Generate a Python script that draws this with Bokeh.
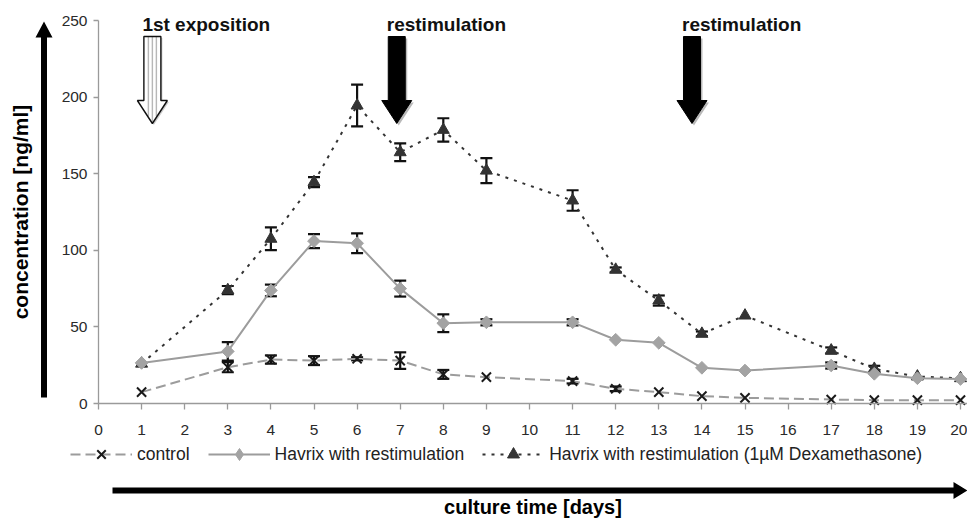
import math
from bokeh.plotting import figure
from bokeh.models import (ColumnDataSource, Whisker, TeeHead, FixedTicker, Legend, LegendItem,
                          PolyAnnotation, Label, Range1d, LinearAxis)
from bokeh.embed import file_html
from bokeh.resources import INLINE

# ---------------- data ----------------
days = [1, 3, 4, 5, 6, 7, 8, 9, 11, 12, 13, 14, 15, 17, 18, 19, 20]
control = [7.4, 23.7, 28.7, 28.0, 29.2, 28.0, 19.0, 17.2, 14.6, 9.6, 7.4, 4.8, 3.7, 2.6, 2.2, 2.2, 2.2]
control_err = [0, 3.3, 2.7, 2.9, 1.0, 5.4, 2.9, 0, 1.5, 1.5, 0, 0, 0, 0, 0, 0, 0]
havrix = [26.5, 34.0, 73.8, 106.0, 104.6, 75.0, 52.4, 53.0, 53.0, 41.6, 39.6, 23.3, 21.5, 24.8, 19.4, 16.5, 16.0]
havrix_err = [0, 6.0, 3.8, 4.6, 6.5, 5.2, 5.8, 2.0, 2.0, 0, 0, 0, 0, 2.0, 0, 0, 0]
dexa = [26.0, 74.0, 107.5, 144.5, 194.5, 164.0, 178.6, 152.0, 132.5, 87.3, 67.2, 45.5, 57.4, 34.6, 22.6, 17.6, 16.5]
dexa_err = [0, 2.7, 7.4, 3.3, 13.6, 5.8, 7.6, 8.2, 6.7, 1.5, 3.3, 1.5, 0, 2.0, 2.0, 0, 0]

series_names = ["control", "Havrix with restimulation",
                "Havrix with restimulation (1\u00b5M Dexamethasone)"]
x_ticks = list(range(0, 21))
y_ticks = [0, 50, 100, 150, 200, 250]

event_labels = ["1st exposition", "restimulation", "restimulation"]
event_days = [1.25, 6.92, 13.77]

FONT = "Liberation Sans"
W, H = 967, 519

# pixel helpers (plot area: day 0 at x=98, day 20 at x=960; 0 at y=403, 250 at y=20)
PX_DAY = (960 - 98) / 20.0
PX_UNIT = 383 / 250.0


def dx(X):
    return (X - 98) / PX_DAY


def dy(Y):
    return (403 - Y) / PX_UNIT


# ---------------- figure ----------------
p = figure(width=W, height=H, output_backend="svg", toolbar_location=None,
           x_range=Range1d(dx(0), dx(W)), y_range=Range1d(dy(H), dy(0)),
           x_axis_location=None, y_axis_location=None,
           min_border_left=0, min_border_right=0, min_border_top=0, min_border_bottom=0)
p.outline_line_color = None
p.grid.visible = False
p.background_fill_color = "white"
p.border_fill_color = "white"

xaxis = LinearAxis(fixed_location=0, bounds=(0, dx(984)), ticker=FixedTicker(ticks=x_ticks))
yaxis = LinearAxis(fixed_location=0, bounds=(0, 250), ticker=FixedTicker(ticks=y_ticks))
for ax in (xaxis, yaxis):
    ax.axis_line_color = "#9a9a9a"
    ax.axis_line_width = 1.3
    ax.major_tick_line_color = "#9a9a9a"
    ax.major_tick_line_width = 1.3
    ax.minor_tick_line_color = None
    ax.major_label_text_font = FONT
    ax.major_label_text_font_size = "15.5px"
    ax.major_label_text_color = "#2a2a2a"
    ax.axis_label_text_font = FONT
    ax.axis_label_text_font_style = "bold"
    ax.axis_label_text_color = "black"

xaxis.major_tick_in = 0
xaxis.major_tick_out = 6
xaxis.major_label_standoff = 15
xaxis.axis_label = "culture time [days]"
xaxis.axis_label_standoff = 58
xaxis.axis_label_text_font_size = "20px"

yaxis.major_tick_in = 0
yaxis.major_tick_out = 5
yaxis.major_label_standoff = 6
yaxis.axis_label = "concentration [ng/ml]"
yaxis.axis_label_standoff = 27
yaxis.axis_label_text_font_size = "21px"

p.add_layout(xaxis, "below")
p.add_layout(yaxis, "left")

# ---------------- series ----------------
r_d_line = p.line(days, dexa, line_color="#333333", line_width=2, line_dash="3 6")
r_d_mark = p.scatter(days, dexa, marker="triangle", size=12, fill_color="#333333", line_color="#333333")

r_h_line = p.line(days, havrix, line_color="#9c9c9c", line_width=2)
r_h_mark = p.scatter(days, havrix, marker="square", angle=math.pi / 4, size=9,
                     fill_color="#a3a3a3", line_color="#a3a3a3")
# legend key only (the legend does not rotate markers); hidden in the plot itself
r_h_key = p.scatter(days, havrix, marker="diamond", size=13, fill_color="#a3a3a3",
                    line_color="#a3a3a3", visible=False)

r_c_line = p.line(days, control, line_color="#9c9c9c", line_width=2, line_dash="10 5")
r_c_mark = p.scatter(days, control, marker="x", size=13, line_color="#1a1a1a", line_width=2)


def add_whiskers(vals, errs):
    xs, lo, hi = [], [], []
    for d, v, e in zip(days, vals, errs):
        if e > 0:
            xs.append(d)
            lo.append(v - e)
            hi.append(v + e)
    src = ColumnDataSource(dict(base=xs, lower=lo, upper=hi))
    w = Whisker(source=src, base="base", lower="lower", upper="upper",
                line_color="#111111", line_width=2.2,
                upper_head=TeeHead(size=12, line_color="#111111", line_width=2.2),
                lower_head=TeeHead(size=12, line_color="#111111", line_width=2.2))
    p.add_layout(w)


add_whiskers(dexa, dexa_err)
add_whiskers(havrix, havrix_err)
add_whiskers(control, control_err)

# ---------------- legend ----------------
legend = Legend(items=[
    LegendItem(label=series_names[0], renderers=[r_c_line, r_c_mark]),
    LegendItem(label=series_names[1], renderers=[r_h_line, r_h_key]),
    LegendItem(label=series_names[2], renderers=[r_d_line, r_d_mark]),
], orientation="horizontal", location=(70, H - 469), glyph_width=62, glyph_height=30,
    label_standoff=5, spacing=18, padding=0, margin=0, border_line_color=None,
    background_fill_alpha=0, label_text_font=FONT, label_text_font_size="17.5px",
    label_text_color="#222222", label_height=20, inactive_fill_alpha=0)
p.add_layout(legend)


# ---------------- decorations ----------------
def poly(pts, fill="black", line=None, lw=1, falpha=1.0):
    p.add_layout(PolyAnnotation(xs=[dx(a) for a, b in pts], ys=[dy(b) for a, b in pts],
                                fill_color=fill, fill_alpha=falpha,
                                line_color=line, line_width=lw, line_alpha=1 if line else 0))


# vertical axis arrow
poly([(40.5, 397), (46.5, 397), (46.5, 37), (52, 37), (43.5, 21), (35, 37), (40.5, 37)])
# horizontal axis arrow
poly([(112, 487), (953, 487), (953, 481.5), (967, 490), (953, 498.5), (953, 493), (112, 493)])


def down_arrow_shape(cx, ox=0, oy=0):
    return [(cx - 8.5 + ox, 36 + oy), (cx + 8.5 + ox, 36 + oy), (cx + 8.5 + ox, 100 + oy),
            (cx + 15 + ox, 100 + oy), (cx + ox, 123 + oy), (cx - 15 + ox, 100 + oy),
            (cx - 8.5 + ox, 100 + oy)]


for lbl, d in zip(event_labels, event_days):
    cx = 98 + d * PX_DAY
    if lbl.startswith("1st"):
        poly(down_arrow_shape(cx, 1.5, 1.5), fill="#9a9a9a", falpha=0.5)
        poly(down_arrow_shape(cx), fill="white", line="#111111", lw=1.4)
        for off in (-4, 0, 4):
            depth = 123 - abs(off) / 15.0 * 23 - 1
            p.add_layout(PolyAnnotation(xs=[dx(cx + off), dx(cx + off)], ys=[dy(36), dy(depth)],
                                        fill_alpha=0, line_color="#111111", line_width=1.4))
    else:
        poly(down_arrow_shape(cx, 2, 2), fill="#8a8a8a", falpha=0.6)
        poly(down_arrow_shape(cx), fill="black", line="black", lw=1)
    p.add_layout(Label(x=dx(cx - 10), y=dy(24), text=lbl, text_font=FONT,
                       text_font_style="bold", text_font_size="19px", text_color="#111111",
                       text_align="left", text_baseline="alphabetic"))

open("out.html", "w").write(file_html(p, INLINE))
